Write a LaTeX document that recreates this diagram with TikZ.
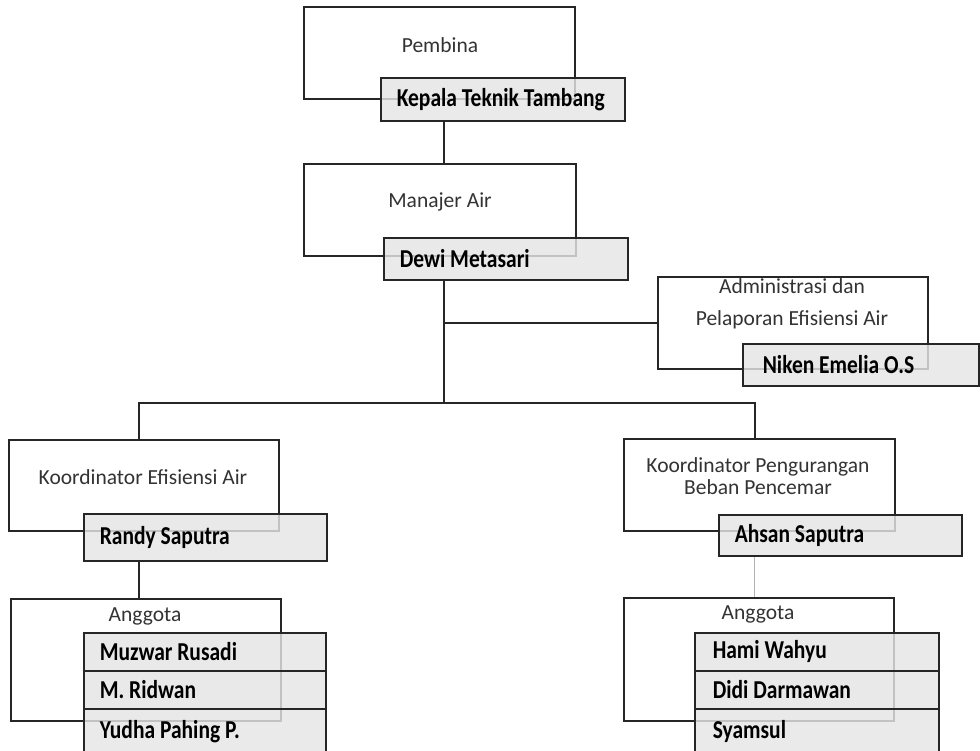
\documentclass[tikz,border=0pt]{standalone}
\usepackage{graphicx}
\usepackage{fontspec}
\setmainfont{Carlito}
\newcommand\tallname[1]{\scalebox{1}[1.2]{#1}}

\begin{document}
\begin{tikzpicture}[x=1pt,y=-1pt,line width=1.6pt,
  font=\fontsize{21.5pt}{26pt}\selectfont,
  unit/.style={draw=black!85,fill=white,anchor=north west,inner sep=0pt},
  holder/.style={draw=black!85,fill=black!10,fill opacity=.82,text opacity=1,
    anchor=north west,inner xsep=16pt,inner ysep=0pt,align=flush left,
    font=\fontsize{21.5pt}{26pt}\selectfont\bfseries},
  caption/.style={text=black!80,align=center,inner sep=0pt},
  link/.style={draw=black!85}]
\useasboundingbox (0,0) rectangle (980,750);

\node[unit,minimum width=271,minimum height=92] (pembina) at (303,6) {};
\node[caption] (pembinatxt) at (440,45) {Pembina};
\node[holder,text width=212,minimum height=43] (ktt) at (380,77) {\tallname{Kepala Teknik Tambang}};

\node[unit,minimum width=272,minimum height=92] (manajer) at (303,163) {};
\node[caption] (manajertxt) at (440,202) {Manajer Air};
\node[holder,text width=212,minimum height=42] (dewi) at (383,237) {\tallname{Dewi Metasari}};

\node[unit,minimum width=270,minimum height=92] (admin) at (657,276) {};
\node[caption,yshift=-1pt] (admintxt) at (792,303) {Administrasi dan\\[6pt]Pelaporan Efisiensi Air};
\node[holder,inner xsep=20pt,text width=196,minimum height=42] (niken) at (742,343) {\tallname{Niken Emelia O.S}};

\node[unit,minimum width=270,minimum height=91] (efisiensi) at (8,439) {};
\node[caption] (efisiensitxt) at (143,477) {Koordinator Efisiensi Air};
\node[holder,text width=211,minimum height=47] (randy) at (83,513) {\tallname{Randy Saputra}};

\node[unit,minimum width=271,minimum height=92] (beban) at (623,438) {};
\node[caption] (bebantxt) at (758,476) {Koordinator Pengurangan\\[-4pt]Beban Pencemar};
\node[holder,text width=211,minimum height=41] (ahsan) at (718,514) {\tallname{Ahsan Saputra}};

\node[unit,minimum width=270,minimum height=122] (anggotakiri) at (10,598) {};
\node[caption] (anggotakiritxt) at (145,616) {Anggota};
\foreach \who/\top/\tall [count=\i] in {Muzwar Rusadi/632/38,M. Ridwan/670/38,Yudha Pahing P./708/46}
   \node[holder,text width=210,minimum height=\tall] (kiri\i) at (83,\top) {\tallname{\who}};

\node[unit,minimum width=270,minimum height=123] (anggotakanan) at (623,597) {};
\node[caption] (anggotakanantxt) at (758,614) {Anggota};
\foreach \who/\top/\tall [count=\i] in {Hami Wahyu/632/38,Didi Darmawan/670/38,Syamsul/708/46}
   \node[holder,inner xsep=18pt,text width=208,minimum height=\tall] (kanan\i) at (694,\top) {\tallname{\who}};

\coordinate (hub) at ([xshift=4pt]manajer.south |- 0,403);
\coordinate (split) at (hub |- admin.west);
\coordinate (kiri) at ([xshift=-5pt]efisiensi.north);
\coordinate (kanan) at ([xshift=-4.5pt]beban.north);
\draw[link] (hub |- manajer.north) -- (hub |- ktt.south);
\draw[link] (hub |- dewi.south) -- (hub);
\draw[link] (split) -- (admin.west);
\draw[link] (kiri) |- (hub) -| (kanan);
\draw[link] (kiri |- anggotakiri.north) -- (kiri |- randy.south);
\draw[link,draw=black!30,line width=.8pt] (kanan |- anggotakanan.north) -- (kanan |- ahsan.south);
\end{tikzpicture}
\end{document}
